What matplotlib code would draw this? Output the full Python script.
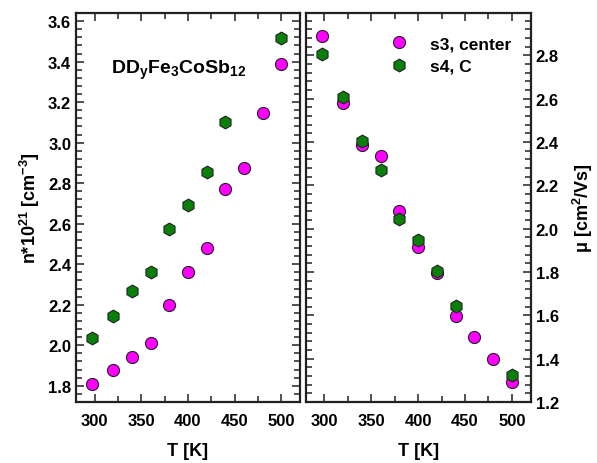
import numpy as np
import matplotlib
matplotlib.use('Agg')
import matplotlib.pyplot as plt
from matplotlib.ticker import MultipleLocator

plt.rcParams['font.family'] = ['Liberation Sans', 'DejaVu Sans']
plt.rcParams['font.weight'] = 'bold'
plt.rcParams['mathtext.fontset'] = 'custom'
plt.rcParams['mathtext.rm'] = 'Liberation Sans:bold'
plt.rcParams['mathtext.default'] = 'regular'

# temperatures [K]
T_s3 = [297, 320, 340, 360, 380, 400, 420, 440, 460, 480, 500]
T_s4 = [297, 320, 340, 360, 380, 400, 420, 440, 500]

# carrier concentration n*10^21 [cm^-3]
n_s3 = [1.81, 1.88, 1.94, 2.01, 2.20, 2.36, 2.48, 2.77, 2.875, 3.146, 3.39]
n_s4 = [2.035, 2.144, 2.27, 2.36, 2.574, 2.69, 2.854, 3.10, 3.515]

# mobility [cm^2/Vs]
mu_s3 = [2.89, 2.578, 2.385, 2.334, 2.08, 1.914, 1.794, 1.598, 1.50, 1.40, 1.292]
mu_s4 = [2.805, 2.607, 2.406, 2.27, 2.045, 1.948, 1.806, 1.641, 1.325]

fig = plt.figure(figsize=(5.97, 4.64), dpi=100)
ax1 = fig.add_axes([0.1273, 0.1315, 0.3752, 0.8383])
ax2 = fig.add_axes([0.512, 0.1315, 0.3769, 0.8383])

s3_style = dict(marker='o', color='#ff00ff', markeredgecolor='#222222',
                markeredgewidth=0.8, markersize=8.7, linestyle='none')
s4_style = dict(marker='h', color='#0a800a', markeredgecolor='#222222',
                markeredgewidth=0.8, markersize=9.2, linestyle='none')

ax1.plot(T_s3, n_s3, **s3_style)
ax1.plot(T_s4, n_s4, **s4_style)
ax2.plot(T_s3, mu_s3, label='s3, center', **s3_style)
ax2.plot(T_s4, mu_s4, label='s4, C', **s4_style)

for ax in (ax1, ax2):
    ax.set_xlim(280, 520)
    ax.xaxis.set_major_locator(MultipleLocator(50))
    ax.xaxis.set_minor_locator(MultipleLocator(25))
    ax.yaxis.set_minor_locator(MultipleLocator(0.04))
    ax.yaxis.set_major_locator(MultipleLocator(0.2))
    ax.tick_params(which='both', direction='in', top=True, right=True,
                   labelsize=12, width=1.2, color='#333333')
    ax.tick_params(which='major', length=6)
    ax.tick_params(which='minor', length=4)
    ax.tick_params(axis='x', pad=8)
    for s in ax.spines.values():
        s.set_linewidth(1.6)
        s.set_color('#222222')
    ax.set_xlabel('T [K]', fontsize=13, fontweight='bold', labelpad=10)
    for lab in ax.get_xticklabels() + ax.get_yticklabels():
        lab.set_fontweight('bold')

ax1.set_ylim(1.72, 3.64)
ax1.set_ylabel('n*10$^{21}$ [cm$^{-3}$]', fontsize=13, fontweight='bold', labelpad=4)
ax1.text(0.155, 0.845, 'DD$_y$Fe$_3$CoSb$_{12}$', transform=ax1.transAxes,
         fontsize=14, fontweight='bold')

ax2.set_ylim(1.2, 2.995)
ax2.yaxis.tick_right()
ax2.tick_params(which='both', left=True, right=True, labelleft=False, labelright=True)
ax2.yaxis.set_label_position('right')
ax2.set_ylabel('μ [cm$^{2}$/Vs]', fontsize=13, fontweight='bold', labelpad=9)
ax2.legend(loc='upper left', frameon=False, fontsize=12.5, handlelength=2.0,
           handletextpad=0.78, labelspacing=0.4, borderpad=0, borderaxespad=0,
           bbox_to_anchor=(0.337, 0.94))

fig.savefig('out.png', dpi=100)
